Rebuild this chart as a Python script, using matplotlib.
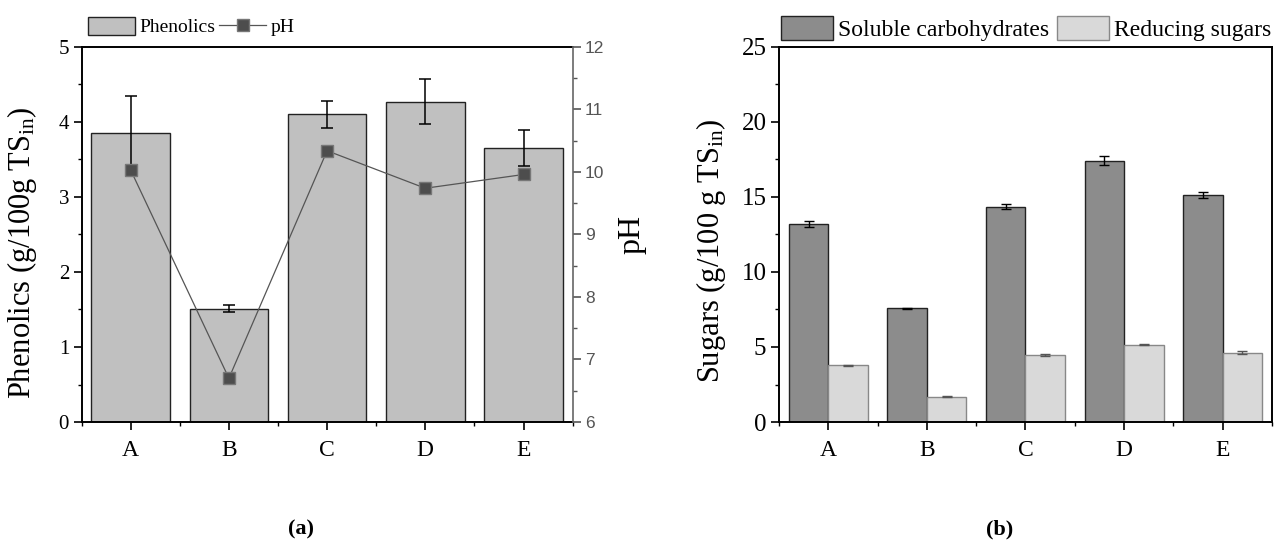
import numpy as np
import matplotlib
matplotlib.use("Agg")
import matplotlib.pyplot as plt
from matplotlib.patches import Patch
from matplotlib.lines import Line2D
from matplotlib.ticker import MultipleLocator

plt.rcParams["font.family"] = ["Liberation Serif", "DejaVu Serif"]
plt.rcParams["mathtext.fontset"] = "custom"
plt.rcParams["mathtext.rm"] = "Liberation Serif"
plt.rcParams["mathtext.it"] = "Liberation Serif"

# data
samples = ["A", "B", "C", "D", "E"]
phenolics = [3.85, 1.51, 4.10, 4.27, 3.65]
phenolics_err = [0.50, 0.05, 0.18, 0.30, 0.24]
ph = [10.03, 6.70, 10.34, 9.74, 9.96]
soluble_carbs = [13.2, 7.58, 14.35, 17.42, 15.13]
soluble_carbs_err = [0.22, 0.05, 0.15, 0.30, 0.22]
reducing_sugars = [3.78, 1.69, 4.44, 5.16, 4.62]
reducing_sugars_err = [0.05, 0.02, 0.07, 0.02, 0.12]

x = np.arange(len(samples))
W, H = 1274, 542

fig = plt.figure(figsize=(12.74, 5.42), dpi=100)


def style_x(ax):
    ax.set_xlim(-0.5, 4.5)
    ax.set_xticks(x)
    ax.set_xticklabels(samples)
    ax.set_xticks(np.arange(-0.5, 5, 1.0), minor=True)
    ax.tick_params(axis="x", which="major", direction="out", length=6, width=1.2, labelsize=17, pad=7)
    ax.tick_params(axis="x", which="minor", direction="out", length=3, width=1.0)


# (a) phenolics and pH
ax1 = fig.add_axes([81.6 / W, 0.2214, 491 / W, 0.6919])
ax1.bar(x, phenolics, width=0.8, color="#c0c0c0", edgecolor="#222222", linewidth=1.0, zorder=2)
ax1.errorbar(x, phenolics, yerr=phenolics_err, fmt="none", ecolor="black", elinewidth=1.1,
             capsize=4, capthick=1.1, zorder=3)
ax1.set_ylim(0, 5)
ax1.yaxis.set_major_locator(MultipleLocator(1))
ax1.yaxis.set_minor_locator(MultipleLocator(0.5))
ax1.tick_params(axis="y", which="major", direction="out", length=6, width=1.2, labelsize=15, pad=3)
ax1.tick_params(axis="y", which="minor", direction="out", length=3, width=1.0)
style_x(ax1)
for s in ["left", "bottom", "top"]:
    ax1.spines[s].set_linewidth(1.4)
ax1.spines["right"].set_visible(False)

ax1b = ax1.twinx()
ax1b.plot(x, ph, color="#555555", linewidth=0.9, marker="s", markersize=8.5,
          markerfacecolor="#4d4d4d", markeredgecolor="#777777", zorder=4)
ax1b.set_ylim(6, 12)
ax1b.yaxis.set_major_locator(MultipleLocator(1))
ax1b.yaxis.set_minor_locator(MultipleLocator(0.5))
ax1b.tick_params(axis="y", which="major", direction="out", length=6, width=1.2,
                 colors="#555555", labelsize=12.5, pad=3)
ax1b.tick_params(axis="y", which="minor", direction="out", length=3, width=1.0, colors="#555555")
for lab in ax1b.get_yticklabels():
    lab.set_family(["Liberation Sans", "DejaVu Sans"])
ax1b.spines["right"].set_color("#666666")
ax1b.spines["right"].set_linewidth(1.2)
for s in ["top", "left", "bottom"]:
    ax1b.spines[s].set_visible(False)

fig.text(22 / W, 1 - 253 / H, "Phenolics (g/100g TS$_{\\mathrm{in}}$)", rotation=90,
         ha="center", va="center", fontsize=22)
fig.text(632 / W, 1 - 234 / H, "pH", rotation=90, ha="center", va="center", fontsize=23)

handles_a = [Patch(facecolor="#c0c0c0", edgecolor="#222222", linewidth=1.0),
             Line2D([], [], color="#555555", linewidth=0.9, marker="s", markersize=8,
                    markerfacecolor="#4d4d4d", markeredgecolor="#777777")]
fig.legend(handles_a, ["Phenolics", "pH"], loc="center left",
           bbox_to_anchor=(88 / W, 1 - 26.5 / H), ncol=2, frameon=False, fontsize=14,
           handlelength=2.4, handleheight=1.1, columnspacing=0.2, handletextpad=0.25,
           borderaxespad=0, borderpad=0)

# (b) sugars
ax2 = fig.add_axes([779 / W, 0.2214, 493 / W, 0.6919])
ax2.bar(x - 0.2, soluble_carbs, width=0.4, color="#8c8c8c", edgecolor="#222222", linewidth=1.0, zorder=2)
ax2.bar(x + 0.2, reducing_sugars, width=0.4, color="#d9d9d9", edgecolor="#888888", linewidth=1.0, zorder=2)
ax2.errorbar(x - 0.2, soluble_carbs, yerr=soluble_carbs_err, fmt="none", ecolor="black",
             elinewidth=1.0, capsize=3.5, capthick=1.0, zorder=3)
ax2.errorbar(x + 0.2, reducing_sugars, yerr=reducing_sugars_err, fmt="none", ecolor="#555555",
             elinewidth=1.0, capsize=3.5, capthick=1.0, zorder=3)
ax2.set_ylim(0, 25)
ax2.yaxis.set_major_locator(MultipleLocator(5))
ax2.yaxis.set_minor_locator(MultipleLocator(2.5))
ax2.tick_params(axis="y", which="major", direction="out", length=6, width=1.2, labelsize=18, pad=3)
ax2.tick_params(axis="y", which="minor", direction="out", length=3, width=1.0)
style_x(ax2)
for s in ["left", "bottom", "top", "right"]:
    ax2.spines[s].set_linewidth(1.4)

fig.text(711 / W, 1 - 251 / H, "Sugars (g/100 g TS$_{\\mathrm{in}}$)", rotation=90,
         ha="center", va="center", fontsize=22)

handles_b = [Patch(facecolor="#8c8c8c", edgecolor="#222222", linewidth=1.0),
             Patch(facecolor="#d9d9d9", edgecolor="#888888", linewidth=1.0)]
fig.legend(handles_b, ["Soluble carbohydrates", "Reducing sugars"], loc="center left",
           bbox_to_anchor=(781 / W, 1 - 28.5 / H), ncol=2, frameon=False, fontsize=17,
           handlelength=2.2, handleheight=1.15, columnspacing=0.3, handletextpad=0.23,
           borderaxespad=0, borderpad=0)

# panel captions
fig.text(301 / W, 1 - 529 / H, "(a)", ha="center", va="center", fontsize=16, fontweight="bold")
fig.text(1000 / W, 1 - 529 / H, "(b)", ha="center", va="center", fontsize=16, fontweight="bold")

fig.savefig("out.png", dpi=100)
